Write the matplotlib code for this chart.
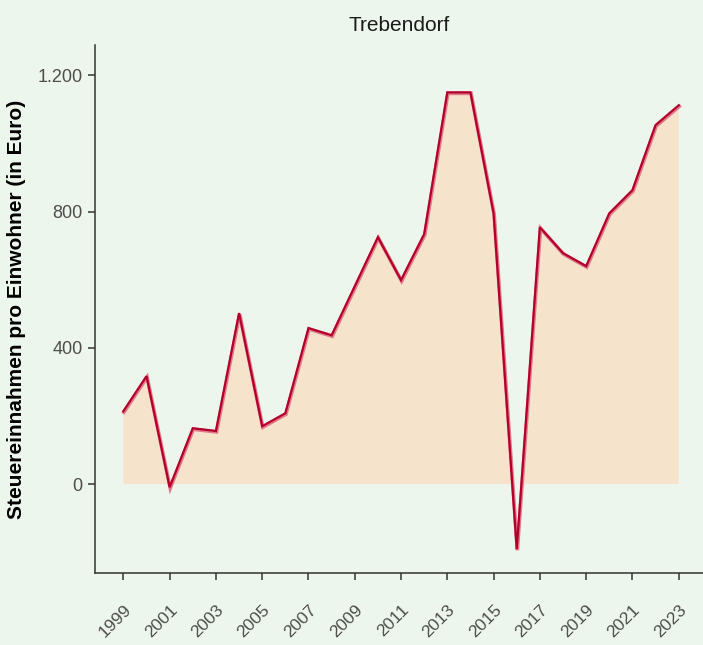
import numpy as np
import matplotlib
matplotlib.use("Agg")
import matplotlib.pyplot as plt
import matplotlib.transforms as mtransforms

# Steuereinnahmen pro Einwohner, Trebendorf
years = np.arange(1999, 2024)
values = np.array([214, 317, -9, 164, 156, 502, 170, 208, 458, 437,
                   581, 725, 599, 734, 1150, 1150, 795, -191, 754, 678,
                   640, 795, 863, 1054, 1112])
tick_years = list(range(1999, 2024, 2))
y_ticks = [0, 400, 800, 1200]
y_tick_labels = ["0", "400", "800", "1.200"]

bg = "#edf6ec"
fill_col = "#f5e3cc"
line_dark = "#b3002a"
line_light = "#e0788a"
text_col = "#4d4d4d"

plt.rcParams["font.family"] = ["Liberation Sans", "DejaVu Sans"]

fig = plt.figure(figsize=(7.03, 6.45), dpi=100, facecolor=bg)
ax = fig.add_axes([0.135, 0.1116, 0.865, 0.8186], facecolor=bg)

ax.fill_between(years, values, 0, where=values >= 0, interpolate=True,
                color=fill_col, linewidth=0)

# light shadow line slightly below, dark line on top
shadow = mtransforms.offset_copy(ax.transData, fig=fig, x=0.6, y=-1.0, units="dots")
ax.plot(years, values, color=line_light, lw=2.6, transform=shadow,
        solid_joinstyle="miter", zorder=3)
ax.plot(years, values, color=line_dark, lw=1.6, solid_joinstyle="miter", zorder=4)

ax.set_xlim(1997.77, 2024.05)
ax.set_ylim(-261, 1289)
ax.set_xticks(tick_years)
ax.set_xticklabels([str(y) for y in tick_years], rotation=45, ha="right",
                   va="top", rotation_mode="anchor", fontsize=12.5, color=text_col)
ax.set_yticks(y_ticks)
ax.set_yticklabels(y_tick_labels, fontsize=13, color=text_col)
ax.tick_params(axis="both", length=5, width=1.1, color="#333333")
ax.tick_params(axis="x", pad=16)
ax.tick_params(axis="y", pad=4)

for side in ["top", "right"]:
    ax.spines[side].set_visible(False)
for side in ["left", "bottom"]:
    ax.spines[side].set_color("#333333")
    ax.spines[side].set_linewidth(1.1)

ax.set_title("Trebendorf", fontsize=15, color="#1a1a1a", pad=10)
ax.set_ylabel("Steuereinnahmen pro Einwohner (in Euro)", fontsize=15,
              fontweight="bold", color="black", labelpad=8)

fig.savefig("out.png", dpi=100, facecolor=bg)
